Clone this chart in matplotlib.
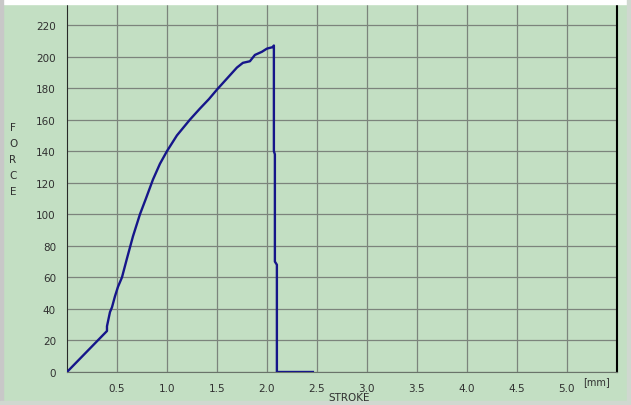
import matplotlib
matplotlib.use('Agg')
import matplotlib.pyplot as plt
from matplotlib.patches import Rectangle

# stroke [mm] / force
stroke = [0, 0.40, 0.40, 0.41, 0.43, 0.45, 0.48, 0.51, 0.55, 0.60, 0.66, 0.73, 0.79,
          0.86, 0.93, 1.0, 1.1, 1.23, 1.33, 1.42, 1.5, 1.6, 1.7, 1.76, 1.83,
          1.88, 1.95, 2.0, 2.06, 2.07, 2.07, 2.08, 2.08, 2.1, 2.1, 2.46]
force = [0, 26, 29, 32, 38, 41, 48, 54, 60, 72, 86, 100, 110,
         122, 132, 140, 150, 160, 167, 173, 179, 186, 193, 196, 197,
         201, 203, 205, 206, 207, 140, 138, 70, 68, 0, 0]

xticks = [0.5, 1.0, 1.5, 2.0, 2.5, 3.0, 3.5, 4.0, 4.5, 5.0]
yticks = list(range(0, 221, 20))

bg = '#c3dfc3'
fig = plt.figure(figsize=(6.31, 4.06), dpi=100, facecolor=bg)
# window frame strips
fig.patches.append(Rectangle((0, 1 - 5/406), 1, 5/406, transform=fig.transFigure, color='white', zorder=0))
fig.patches.append(Rectangle((0, 0), 3/631, 1, transform=fig.transFigure, color='#c8c8c8', zorder=0))
fig.patches.append(Rectangle((1 - 4/631, 0), 4/631, 1, transform=fig.transFigure, color='#d0d8d0', zorder=0))
fig.patches.append(Rectangle((0, 0), 1, 4/406, transform=fig.transFigure, color='#d0d8d0', zorder=0))

ax = fig.add_axes([67/631, 1 - 373/406, (616.7 - 67)/631, (373 - 5)/406])
ax.set_facecolor(bg)
ax.plot(stroke, force, color='#16168a', lw=1.7, zorder=3)

ax.set_xlim(0, 5.5)
ax.set_ylim(0, 233.3)
ax.set_xticks(xticks)
ax.set_xticklabels(['%.1f' % v for v in xticks])
ax.set_yticks(yticks)
ax.tick_params(length=0, labelsize=7.5, labelcolor='#303030')
ax.tick_params(axis='x', pad=8)
ax.tick_params(axis='y', pad=8)
ax.grid(True, color='#7c847c', lw=0.9)
ax.set_axisbelow(True)

ax.spines['top'].set_visible(False)
ax.spines['left'].set_color('#2a2a2a')
ax.spines['bottom'].set_color('#6a746a')
ax.spines['right'].set_color('black')
ax.spines['right'].set_linewidth(1.5)

fig.text(349/631, 1 - 398/406, 'STROKE', ha='center', va='center', fontsize=7.5, color='#303030')
fig.text(597/631, 1 - 382/406, '[mm]', ha='center', va='center', fontsize=7, color='#303030')
fig.text(13/631, 1 - 160/406, 'F\nO\nR\nC\nE', ha='center', va='center', fontsize=7.5,
         color='#303030', linespacing=1.75)

plt.savefig('out.png', dpi=100, facecolor=bg)
